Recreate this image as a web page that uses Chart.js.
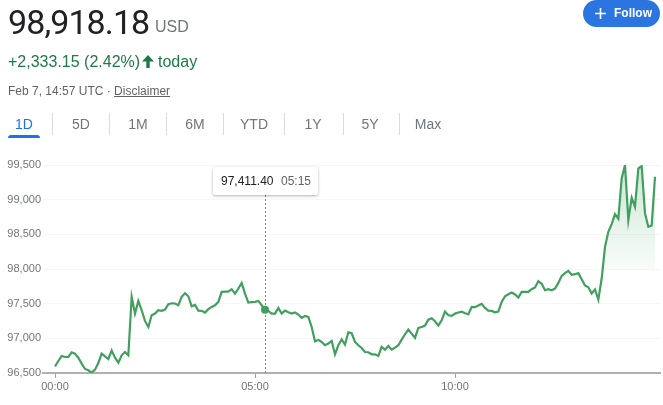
<!DOCTYPE html>
<html>
<head>
<meta charset="utf-8">
<script src="https://cdn.jsdelivr.net/npm/chart.js@4"></script>
<style>
  html, body { margin: 0; padding: 0; background: #fff; }
  body { width: 663px; height: 405px; overflow: hidden; position: relative; font-family: "Liberation Sans", Arial, sans-serif; }
  canvas { position: absolute; left: 0; top: 0; }
  .abs { position: absolute; white-space: nowrap; }
  .price { left: 8px; top: 1px; font-family: Roboto, sans-serif; font-size: 34px; line-height: 42px; color: #202124; letter-spacing: -0.9px; }
  .currency { left: 155px; top: 17px; font-size: 16px; line-height: 20px; color: #70757a; }
  .change { left: 8px; top: 52px; font-size: 16px; line-height: 20px; color: #1e7a45; }
  .today { left: 158px; top: 52px; font-size: 16px; line-height: 20px; color: #1e7a45; }
  .arrow { left: 142px; top: 55px; }
  .stamp { left: 8px; top: 84px; font-size: 12px; line-height: 14px; color: #5f6368; }
  .tab { top: 116px; font-size: 14px; line-height: 16px; color: #70757a; transform: translateX(-50%); }
  .tab.on { color: #1a73e8; }
  .sep { top: 113px; width: 1px; height: 22px; background: #dadce0; }
  .underline { left: 8px; top: 135px; width: 32px; height: 3px; background: #1a73e8; border-radius: 3px 3px 0 0; }
  .follow { left: 583px; top: 0; width: 77px; height: 27px; border-radius: 14px; background: #2a75e0; color: #fff; font-size: 12px; font-weight: bold; line-height: 26px; }
  .follow span { position: absolute; left: 31px; }
  .follow svg { position: absolute; left: 11px; top: 7px; }
  .tip { left: 213px; top: 167px; width: 105px; height: 28px; background: #fff; border-radius: 2px; box-shadow: 0 1px 3px rgba(60,64,67,.4); font-size: 12px; line-height: 28px; color: #202124; z-index: 2; }
  .tip b { font-weight: normal; position: absolute; left: 8px; }
  .tip i { font-style: normal; color: #5f6368; position: absolute; left: 68px; }
</style>
</head>
<body>
<canvas id="chart" width="663" height="405"></canvas>

<div class="abs price">98,918.18</div>
<div class="abs currency">USD</div>
<div class="abs change">+2,333.15 (2.42%)</div>
<svg class="abs arrow" width="12" height="13" viewBox="0 0 12 13"><path d="M6 0 L12 6.5 H7.7 V13 H4.3 V6.5 H0 Z" fill="#1e7a45"/></svg>
<div class="abs today">today</div>
<div class="abs stamp">Feb 7, 14:57 UTC · <u>Disclaimer</u></div>
<div class="abs follow">
  <svg width="13" height="13" viewBox="0 0 13 13"><path d="M6.5 1 V12 M1 6.5 H12" stroke="#fff" stroke-width="1.6"/></svg>
  <span>Follow</span>
</div>
<div class="abs underline"></div>
<div class="abs tip"><b id="tipValue"></b><i id="tipTime"></i></div>

<script>
const prices = [
  96596, 96673, 96746, 96731, 96731, 96799, 96779, 96721, 96635, 96558,
  96539, 96505, 96548, 96644, 96779, 96741, 96702, 96823, 96721, 96649,
  96755, 96803, 96755, 97598, 97357, 97540, 97405, 97251, 97164, 97333,
  97357, 97405, 97396, 97415, 97492, 97506, 97502, 97477, 97598, 97651,
  97607, 97463, 97482, 97400, 97396, 97372, 97420, 97453, 97477, 97526,
  97670, 97675, 97675, 97709, 97646, 97718, 97800, 97646, 97516, 97521,
  97526, 97540, 97477, 97411.40, 97396, 97357, 97357, 97439, 97357, 97400,
  97376, 97357, 97372, 97343, 97294, 97323, 97309, 97164, 96957, 96977,
  96948, 96900, 96924, 96962, 96770, 96900, 96986, 96909, 97087, 97073,
  96948, 96900, 96861, 96803, 96799, 96770, 96770, 96746, 96876, 96837,
  96890, 96837, 96866, 96900, 96982, 97059, 97126, 97068, 97006, 97150,
  97164, 97184, 97270, 97290, 97246, 97184, 97261, 97386, 97333, 97323,
  97357, 97372, 97386, 97362, 97347, 97453, 97449, 97473, 97497, 97439,
  97400, 97396, 97376, 97386, 97526, 97607, 97636, 97660, 97632, 97588,
  97670, 97670, 97670, 97709, 97733, 97824, 97786, 97694, 97709, 97694,
  97718, 97800, 97901, 97940, 97973, 97916, 97925, 97940, 97853, 97762,
  97737, 97646, 97704, 97559, 97863, 98320, 98537, 98647, 98792, 98725,
  99307, 99500, 98705, 99028, 98898, 99452, 99485, 98802, 98609, 98628,
  99331
];
const minutesPerPoint = 5;
const xTicks = [0, 300, 600];
const yTicks = [96500, 97000, 97500, 98000, 98500, 99000, 99500];
const tabs = ['1D', '5D', '1M', '6M', 'YTD', '1Y', '5Y', 'Max'];
const tabCentres = [24, 81, 138, 195, 254, 313, 370, 428];
const tabSeparators = [52, 109, 166, 223, 284, 343, 399];
const hoverIndex = 63;
const fillBase = 98000;

const green = '#41a05f';

const pad = n => String(n).padStart(2, '0');
const formatTime = minutes => `${pad(Math.floor(minutes / 60))}:${pad(minutes % 60)}`;

tabs.forEach((tab, i) => {
  const el = document.createElement('div');
  el.className = i === 0 ? 'abs tab on' : 'abs tab';
  el.style.left = `${tabCentres[i]}px`;
  el.textContent = tab;
  document.body.appendChild(el);
});

tabSeparators.forEach(x => {
  const el = document.createElement('div');
  el.className = 'abs sep';
  el.style.left = `${x}px`;
  document.body.appendChild(el);
});

document.getElementById('tipValue').textContent = prices[hoverIndex].toLocaleString('en-US', { minimumFractionDigits: 2 });
document.getElementById('tipTime').textContent = formatTime(hoverIndex * minutesPerPoint);

// dashed line under the tooltip, follows the hovered point
const crosshair = {
  id: 'crosshair',
  beforeDatasetsDraw(chart) {
    const { ctx, chartArea, scales } = chart;
    const x = Math.round(scales.x.getPixelForValue(hoverIndex * minutesPerPoint)) + 0.5;

    ctx.save();
    ctx.strokeStyle = '#80868b';
    ctx.lineWidth = 1;
    ctx.setLineDash([2, 2]);
    ctx.beginPath();
    ctx.moveTo(x, 195);
    ctx.lineTo(x, chartArea.bottom);
    ctx.stroke();
    ctx.restore();
  }
};

const chartContext = document.getElementById('chart').getContext('2d');

const fillGradient = chartContext.createLinearGradient(0, 165, 0, 270);
fillGradient.addColorStop(0, 'rgba(61, 159, 92, 0.25)');
fillGradient.addColorStop(1, 'rgba(61, 159, 92, 0.03)');

new Chart(chartContext, {
  type: 'line',
  data: {
    datasets: [{
      data: prices.map((price, i) => ({ x: i * minutesPerPoint, y: price })),
      borderColor: green,
      borderWidth: 2.2,
      tension: 0,
      pointRadius: ctx => (ctx.dataIndex === hoverIndex ? 4 : 0),
      pointBackgroundColor: green,
      pointBorderWidth: 0,
      fill: { target: { value: fillBase }, above: fillGradient, below: 'rgba(0, 0, 0, 0)' }
    }]
  },
  options: {
    responsive: false,
    animation: false,
    events: [],
    layout: { padding: { top: 165, right: 3, left: 0, bottom: 0 } },
    plugins: { legend: { display: false }, tooltip: { enabled: false } },
    scales: {
      x: {
        type: 'linear',
        min: -18,
        max: 907.5,
        afterFit: scale => { scale.height = 32; },
        afterBuildTicks: scale => { scale.ticks = xTicks.map(value => ({ value })); },
        border: { color: '#b0b0b0', width: 2 },
        grid: { drawOnChartArea: false, color: '#9aa0a6', tickLength: 5 },
        ticks: {
          color: '#70757a',
          font: { family: '"Liberation Sans", Arial, sans-serif', size: 11 },
          padding: 2,
          maxRotation: 0,
          callback: value => formatTime(value)
        }
      },
      y: {
        min: 96500,
        max: 99500,
        afterFit: scale => { scale.width = 43; },
        afterBuildTicks: scale => { scale.ticks = yTicks.map(value => ({ value })); },
        border: { display: false },
        grid: { color: '#f5f6f7', tickLength: 0 },
        ticks: {
          color: '#70757a',
          font: { family: '"Liberation Sans", Arial, sans-serif', size: 11 },
          padding: 2,
          callback: value => value.toLocaleString('en-US')
        }
      }
    }
  },
  plugins: [crosshair]
});
</script>
</body>
</html>
